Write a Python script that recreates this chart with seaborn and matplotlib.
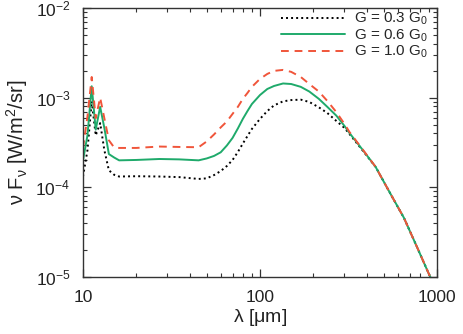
import numpy as np
import pandas as pd
import matplotlib
matplotlib.use("Agg")
import matplotlib.pyplot as plt
import seaborn as sns
from matplotlib.ticker import LogLocator, NullFormatter, FixedLocator, FixedFormatter

# wavelength grid [micron]
wavelength = [10, 10.6, 11.2, 11.8, 12.5, 13.2, 14, 15, 16, 20, 27, 35, 45, 50, 55, 60,
              65, 70, 75, 80, 85, 90, 100, 110, 120, 135, 150, 170, 190, 215, 240,
              270, 300, 320, 380, 450, 540, 650, 770, 900, 1000]

# nu F_nu [W/m^2/sr]
flux_03 = [1.32e-4, 2.6e-4, 9.1e-4, 3.8e-4, 5.2e-4, 2.6e-4, 1.55e-4, 1.38e-4, 1.32e-4,
           1.33e-4, 1.32e-4, 1.30e-4, 1.24e-4, 1.26e-4, 1.37e-4, 1.52e-4,
           1.73e-4, 2.02e-4, 2.48e-4, 3.08e-4, 3.74e-4, 4.48e-4, 5.8e-4, 7.1e-4, 8.2e-4,
           9.1e-4, 9.4e-4, 9.5e-4, 8.95e-4, 7.8e-4, 6.75e-4,
           5.5e-4, 4.6e-4, 3.94e-4, 2.58e-4, 1.69e-4, 8.8e-5, 4.58e-5, 2.17e-5, 1.08e-5, 7e-6]
flux_06 = [2.0e-4, 3.8e-4, 1.34e-3, 4.4e-4, 7.9e-4, 4.6e-4, 2.35e-4, 2.15e-4, 2.0e-4,
           2.02e-4, 2.07e-4, 2.05e-4, 2.0e-4, 2.1e-4, 2.24e-4, 2.46e-4,
           2.93e-4, 3.56e-4, 4.54e-4, 5.8e-4, 7.1e-4, 8.5e-4, 1.07e-3, 1.25e-3, 1.35e-3,
           1.44e-3, 1.42e-3, 1.32e-3, 1.17e-3, 9.7e-4, 7.9e-4,
           6.3e-4, 4.84e-4, 4.04e-4, 2.62e-4, 1.69e-4, 8.8e-5, 4.58e-5, 2.17e-5, 1.08e-5, 7e-6]
flux_10 = [2.74e-4, 6.2e-4, 1.7e-3, 5.9e-4, 1.0e-3, 5.9e-4, 3.35e-4, 2.78e-4, 2.75e-4,
           2.75e-4, 2.85e-4, 2.82e-4, 2.8e-4, 3.25e-4, 3.89e-4, 4.66e-4,
           5.43e-4, 6.6e-4, 7.9e-4, 9.7e-4, 1.13e-3, 1.32e-3, 1.62e-3, 1.84e-3, 1.99e-3,
           2.04e-3, 1.94e-3, 1.70e-3, 1.42e-3, 1.17e-3, 9.2e-4,
           6.9e-4, 5.1e-4, 4.15e-4, 2.65e-4, 1.69e-4, 8.8e-5, 4.58e-5, 2.17e-5, 1.08e-5, 7e-6]

labels = ["G = 0.3 G$_0$", "G = 0.6 G$_0$", "G = 1.0 G$_0$"]
colors = ["black", "#1faa6b", "#f0553a"]
styles = [(0, (1, 1.6)), "-", (0, (4, 3))]

sns.set_theme(style="ticks")
plt.rcParams["font.family"] = ["Liberation Sans", "DejaVu Sans"]
plt.rcParams["mathtext.fontset"] = "custom"
plt.rcParams["mathtext.rm"] = "Liberation Sans"
plt.rcParams["mathtext.it"] = "Liberation Sans:italic"
plt.rcParams["mathtext.default"] = "regular"

fig = plt.figure(figsize=(4.63, 3.34), dpi=100)
ax = fig.add_axes([83 / 463, 1 - 277 / 334, (437 - 83) / 463, (277 - 8) / 334])

for flux, lab, col, ls in zip([flux_03, flux_06, flux_10], labels, colors, styles):
    df = pd.DataFrame({"wavelength": wavelength, "flux": flux})
    sns.lineplot(data=df, x="wavelength", y="flux", ax=ax, color=col,
                 linestyle=ls, linewidth=1.4, label=lab, sort=False)

ax.set_xscale("log")
ax.set_yscale("log")
ax.set_xlim(10, 1000)
ax.set_ylim(1e-5, 1e-2)

ax.xaxis.set_major_locator(FixedLocator([10, 100, 1000]))
ax.xaxis.set_major_formatter(FixedFormatter(["10", "100", "1000"]))
ax.xaxis.set_minor_locator(LogLocator(base=10, subs=np.arange(2, 10)))
ax.xaxis.set_minor_formatter(NullFormatter())
ax.yaxis.set_minor_locator(LogLocator(base=10, subs=np.arange(2, 10)))
ax.yaxis.set_minor_formatter(NullFormatter())

ax.tick_params(which="both", direction="in", top=True, right=True,
               color="#333333", labelsize=12.5, labelcolor="#222222")
ax.tick_params(which="major", length=5.5, width=0.9, pad=9)
ax.tick_params(which="minor", length=2.8, width=0.8)
for sp in ax.spines.values():
    sp.set_color("#333333")
    sp.set_linewidth(1.0)

ax.set_xlabel("λ [$\\mu$m]", fontsize=14, color="#222222", labelpad=2)
ax.set_ylabel("ν F$_ν$ [W/m$^2$/sr]", fontsize=14.5, color="#222222", labelpad=4)

ax.legend(loc="upper right", frameon=False, fontsize=11, handlelength=4.2,
          handletextpad=0.6, labelspacing=0.0, borderaxespad=0.0, borderpad=0.2,
          bbox_to_anchor=(0.985, 1.0))

fig.savefig("out.png", dpi=100)
